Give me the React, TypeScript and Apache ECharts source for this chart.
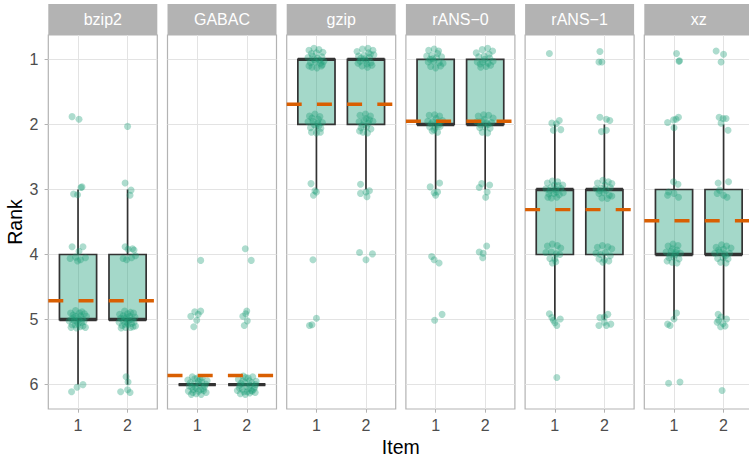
import React, { useEffect, useRef } from "react";
import * as echarts from "echarts";

const facets = ["bzip2", "GABAC", "gzip", "rANS\u22120", "rANS\u22121", "xz"];
const items = [1, 2];
const rankTicks = [1, 2, 3, 4, 5, 6];
const meanRank = [4.71, 5.86, 1.69, 1.95, 3.31, 3.48];

// box stats per item: [whisker top, Q1, median, Q3, whisker bottom] (ranks)
const boxBzip2 = [[3, 4, 5, 5, 6], [3, 4, 5, 5, 6]];
const boxGABAC = [[6, 6, 6, 6, 6], [6, 6, 6, 6, 6]];
const boxGzip = [[1, 1, 1, 2, 3], [1, 1, 1, 2, 3]];
const boxRans0 = [[1, 1, 2, 2, 3], [1, 1, 2, 2, 3]];
const boxRans1 = [[2, 3, 3, 4, 5], [2, 3, 3, 4, 5]];
const boxXz = [[2, 3, 4, 4, 5], [2, 3, 4, 4, 5]];

// jittered points: [x offset from item, rank]
const ptsBzip2a = [[-0.12,1.88],[0.02,1.92],[0.06,2.97],[0.08,2.96],[-0.09,3.07],[-0.01,3.08],
  [-0.12,3.88],[0.10,3.88],[-0.16,4.06],[-0.05,4.04],[0.05,4.08],[0.15,4.05],[-0.01,4.10],[0.02,3.95],
  [-0.15,4.90],[-0.05,4.86],[0.08,4.88],[0.17,4.95],[-0.18,5.02],[-0.08,4.97],[0.02,5.00],[0.12,5.03],[-0.12,5.08],[0.00,5.06],[0.10,5.10],[-0.03,5.13],[0.15,5.12],[-0.10,4.93],[0.05,4.94],[-0.02,5.03],[0.07,5.05],[-0.14,5.12],[0.03,4.90],[-0.06,5.08],
  [-0.04,4.95],[0.09,4.99],[-0.13,4.99],[0.04,5.11],[0.13,4.91],[-0.07,5.02],
  [-0.13,6.11],[-0.02,6.04],[0.10,6.00]];
const ptsBzip2b = [[0.00,2.03],[-0.05,2.90],[0.07,3.01],[0.05,3.09],
  [-0.05,3.88],[0.10,3.91],[0.01,3.92],[-0.09,4.06],[-0.02,4.08],[0.08,4.05],[0.13,3.93],[0.16,4.02],
  [-0.16,4.92],[-0.06,4.87],[0.06,4.89],[0.15,4.96],[-0.17,5.04],[-0.07,4.98],[0.03,5.01],[0.13,5.04],[-0.11,5.09],[0.01,5.07],[0.11,5.11],[-0.04,5.12],[0.16,5.10],[-0.09,4.94],[0.04,4.95],[-0.01,5.04],[0.08,5.06],[-0.13,5.13],[0.00,4.91],[-0.05,5.07],
  [-0.02,4.97],[0.10,5.00],[-0.14,4.98],[0.06,5.12],[0.12,4.90],[-0.08,5.03],
  [-0.03,5.88],[0.01,5.96],[-0.14,6.11],[0.05,6.12],[0.00,6.08]];
const ptsGABACa = [[0.07,4.09],
  [-0.05,4.88],[0.07,4.87],[-0.13,4.95],[-0.01,5.01],[-0.07,5.11],[0.02,4.92],
  [-0.19,5.93],[-0.10,5.88],[0.00,5.90],[0.10,5.89],[0.20,5.94],[-0.16,6.02],[-0.06,5.98],[0.05,6.00],[0.15,6.03],[-0.18,6.10],[-0.08,6.08],[0.03,6.10],[0.13,6.09],[-0.12,6.15],[-0.02,6.14],[0.08,6.15],[0.18,6.12],[-0.04,6.04],[0.09,5.96],[-0.01,6.06],[0.06,5.92],
  [-0.14,5.97],[0.12,6.06],[-0.09,6.12],[0.02,5.95],[0.17,5.99],[-0.05,5.91],[0.07,6.08],[-0.11,6.04]];
const ptsGABACb = [[-0.03,3.91],[0.09,4.09],
  [0.00,4.87],[-0.02,4.91],[-0.08,4.95],[0.01,5.02],[-0.05,5.09],
  [-0.17,5.92],[-0.07,5.87],[0.03,5.90],[0.12,5.88],[0.19,5.95],[-0.14,6.01],[-0.04,5.97],[0.07,6.01],[0.16,6.04],[-0.19,6.09],[-0.09,6.07],[0.01,6.11],[0.11,6.10],[-0.13,6.14],[-0.03,6.15],[0.06,6.13],[0.17,6.12],[-0.01,6.03],[0.10,5.97],[0.04,6.06],[-0.08,5.94],
  [-0.12,5.98],[0.14,6.07],[-0.06,6.11],[0.05,5.94],[0.18,6.00],[-0.02,5.89],[0.09,6.09],[-0.15,6.05]];
const ptsGzipA = [[-0.15,0.86],[-0.05,0.83],[0.05,0.85],[0.13,0.89],[-0.17,0.97],[-0.08,0.95],[0.02,0.98],[0.11,0.96],[-0.12,1.05],[-0.02,1.04],[0.08,1.06],[0.15,1.03],[-0.09,1.12],[0.01,1.13],[0.10,1.10],[-0.15,1.10],[0.00,0.90],[-0.05,1.00],
  [0.06,1.01],[-0.10,0.91],[0.12,1.08],
  [-0.14,1.87],[-0.03,1.84],[0.07,1.88],[-0.17,1.96],[-0.07,1.95],[0.03,1.98],[0.12,1.97],[-0.12,2.05],[-0.01,2.04],[0.09,2.06],[-0.10,2.12],[0.00,2.13],[0.08,2.12],[-0.05,2.00],[0.04,1.92],
  [-0.09,1.90],[0.05,2.02],
  [-0.11,2.91],[-0.03,3.02],[-0.06,3.09],[0.00,3.04],
  [-0.07,4.08],
  [-0.09,5.08],[0.00,4.98],[-0.14,5.09]];
const ptsGzipB = [[-0.18,0.88],[-0.07,0.84],[0.04,0.83],[0.14,0.86],[-0.15,0.95],[-0.04,0.94],[0.07,0.97],[0.16,0.93],[-0.12,1.03],[0.00,1.02],[0.10,1.05],[-0.08,1.10],[0.03,1.12],[0.12,1.09],[-0.16,1.06],[0.05,0.90],[-0.03,0.99],
  [0.09,0.92],[-0.10,0.98],[0.02,1.07],
  [-0.12,1.86],[-0.01,1.84],[0.09,1.87],[-0.14,1.96],[-0.04,1.94],[0.05,1.98],[0.14,1.95],[-0.10,2.05],[0.01,2.04],[0.10,2.07],[-0.06,2.12],[0.03,2.13],[-0.13,2.10],[0.00,1.91],
  [-0.07,2.01],[0.07,1.93],
  [-0.11,2.92],[0.00,3.04],[-0.11,3.06],[0.07,3.02],[0.02,3.11],
  [-0.13,3.97],[0.00,4.08],[0.13,3.99]];
const ptsRans0a = [[-0.14,0.86],[-0.03,0.84],[0.06,0.87],[-0.18,0.95],[-0.08,0.94],[0.02,0.97],[0.12,0.96],[-0.15,1.04],[-0.04,1.03],[0.07,1.05],[0.15,1.06],[-0.10,1.11],[0.00,1.13],[0.10,1.10],[-0.06,0.99],
  [0.04,0.91],[-0.11,1.00],
  [-0.13,1.86],[-0.02,1.85],[0.08,1.87],[-0.16,1.95],[-0.06,1.96],[0.04,1.97],[0.14,1.94],[-0.12,2.04],[-0.01,2.05],[0.09,2.03],[-0.07,2.10],[0.04,2.12],[-0.03,2.08],[0.01,1.91],
  [-0.09,1.99],[0.06,2.01],
  [-0.11,2.96],[0.08,2.90],[-0.03,3.05],[0.04,3.04],[0.00,3.09],
  [-0.08,4.03],[-0.03,4.08],[0.07,4.13],
  [-0.02,5.01],[0.13,4.92]];
const ptsRans0b = [[-0.18,0.90],[-0.06,0.85],[0.05,0.83],[0.15,0.87],[-0.13,0.96],[-0.02,0.95],[0.09,0.98],[-0.16,1.04],[-0.05,1.04],[0.06,1.06],[0.16,1.03],[-0.09,1.12],[0.02,1.11],[0.11,1.09],[-0.01,1.00],
  [0.08,0.92],[-0.10,1.07],
  [-0.14,1.87],[-0.03,1.85],[0.07,1.86],[0.16,1.90],[-0.17,1.96],[-0.07,1.95],[0.03,1.98],[0.13,1.97],[-0.11,2.05],[0.00,2.04],[0.10,2.06],[-0.06,2.12],[0.05,2.13],[-0.02,1.92],
  [0.06,2.00],[-0.09,2.01],
  [-0.07,2.91],[0.09,2.93],[-0.12,2.97],[0.04,3.04],[0.01,3.12],
  [-0.12,3.96],[-0.04,3.98],[-0.05,4.05],[0.03,3.87]];
const ptsRans1a = [[-0.11,0.91],
  [-0.06,1.98],[0.09,1.94],[0.03,1.99],[-0.03,2.09],[0.12,2.08],
  [-0.15,2.90],[-0.05,2.87],[0.06,2.88],[0.16,2.93],[-0.18,2.99],[-0.08,2.97],[0.02,3.00],[0.12,2.98],[-0.12,3.07],[-0.02,3.06],[0.09,3.08],[0.17,3.05],[-0.07,3.13],[0.04,3.12],[-0.14,3.12],[-0.01,2.93],
  [0.07,2.94],[-0.10,3.02],[0.03,3.04],
  [-0.15,3.87],[-0.05,3.84],[0.05,3.86],[0.12,3.90],[-0.18,3.97],[-0.07,3.96],[0.03,3.99],[0.10,4.00],[-0.10,4.06],[0.00,4.07],[-0.05,4.13],[0.02,4.11],
  [-0.11,4.91],[-0.03,5.01],[0.11,4.99],[0.04,5.09],[-0.06,4.97],[0.00,5.05],
  [0.04,5.89]];
const ptsRans1b = [[-0.09,0.88],[-0.11,1.04],[-0.05,1.04],
  [-0.09,1.89],[0.04,1.92],[0.11,1.94],[-0.06,2.11],[0.04,2.09],
  [-0.14,2.90],[-0.03,2.86],[0.08,2.88],[0.15,2.91],[-0.17,2.99],[-0.07,2.98],[0.03,3.01],[0.12,2.97],[-0.11,3.06],[-0.01,3.05],[0.10,3.09],[-0.05,3.13],[0.06,3.14],[0.15,3.10],
  [0.01,2.93],[-0.09,3.02],
  [-0.14,3.89],[-0.04,3.86],[0.07,3.88],[0.15,3.91],[-0.17,3.98],[-0.08,4.00],[0.02,3.97],[0.12,4.02],[-0.11,4.07],[0.00,4.08],[0.09,4.10],[-0.03,4.12],
  [-0.09,4.97],[0.07,4.92],[0.00,4.96],[-0.11,5.09],[0.04,5.09],[0.13,5.07],[0.00,5.04]];
const ptsXzA = [[0.05,0.91],[0.10,1.03],[0.11,1.02],
  [-0.13,1.97],[-0.01,1.93],[0.09,1.89],[0.04,1.92],[0.00,2.05],
  [-0.01,2.88],[0.08,2.92],[-0.11,3.04],[0.00,3.06],[0.09,3.12],[-0.13,3.09],
  [-0.12,3.87],[-0.02,3.84],[0.08,3.86],[-0.16,3.96],[-0.06,3.95],[0.04,3.97],[0.13,3.98],[-0.10,4.05],[0.00,4.04],[0.10,4.07],[-0.14,4.10],[-0.04,4.12],[0.06,4.13],[0.02,4.00],[-0.03,3.91],
  [0.06,3.93],[-0.08,4.01],
  [0.05,4.90],[0.00,4.99],[-0.13,5.07],[-0.08,5.09],
  [-0.11,5.98],[0.12,5.96]];
const ptsXzB = [[-0.15,0.87],[0.00,0.92],[-0.05,1.04],
  [-0.09,1.89],[0.05,1.91],[-0.05,1.98],[0.09,2.09],[-0.01,1.91],
  [-0.11,2.90],[0.10,2.88],[-0.08,3.01],[0.00,3.09],[0.07,3.12],[-0.13,3.06],
  [-0.15,3.89],[-0.04,3.85],[0.06,3.87],[0.15,3.90],[-0.18,3.98],[-0.08,3.96],[0.02,3.99],[0.12,3.98],[-0.12,4.06],[-0.01,4.05],[0.09,4.07],[-0.06,4.12],[0.05,4.13],[0.00,3.92],
  [-0.10,3.93],[0.04,4.02],
  [-0.11,4.92],[-0.05,4.96],[-0.10,5.01],[-0.01,5.06],[-0.13,5.04],[0.03,5.10],[-0.06,5.11],[0.06,4.99],
  [-0.03,6.09]];

const boxes = [boxBzip2, boxGABAC, boxGzip, boxRans0, boxRans1, boxXz];
const points = [
  [ptsBzip2a, ptsBzip2b],
  [ptsGABACa, ptsGABACb],
  [ptsGzipA, ptsGzipB],
  [ptsRans0a, ptsRans0b],
  [ptsRans1a, ptsRans1b],
  [ptsXzA, ptsXzB],
];

// layout (pixels)
const P_LEFT = 48.3;
const P_STEP = 119.2;
const P_W = 109;
const P_TOP = 35;
const P_H = 374;
const S_TOP = 4;
const S_H = 31;
const FONT = "'Liberation Sans', Arial, Helvetica, sans-serif";

export default function App() {
  const ref = useRef<HTMLDivElement>(null);
  useEffect(() => {
    if (!ref.current) return;
    const chart = echarts.init(ref.current, null, { renderer: "svg" });
    const grids: any[] = [];
    const xAxes: any[] = [];
    const yAxes: any[] = [];
    const series: any[] = [];
    const graphics: any[] = [];

    facets.forEach((name, i) => {
      const left = P_LEFT + i * P_STEP;
      grids.push({
        left, top: P_TOP, width: P_W, height: P_H,
        show: true, borderColor: "#B3B3B3", borderWidth: 1.2, backgroundColor: "transparent",
      });
      xAxes.push({
        type: "value", gridIndex: i, min: 0.4, max: 2.6,
        axisLine: { show: false },
        axisTick: { show: true, customValues: items, length: 3.7, lineStyle: { color: "#B3B3B3" } },
        axisLabel: { show: true, customValues: items, margin: 8, fontSize: 16, color: "#4D4D4D", fontFamily: FONT },
        splitLine: { show: true, lineStyle: { color: "#E3E3E3", width: 1 } },
      });
      yAxes.push({
        type: "value", gridIndex: i, inverse: true, min: 0.625, max: 6.375,
        axisLine: { show: false },
        axisTick: { show: i === 0, customValues: rankTicks, length: 3.7, lineStyle: { color: "#B3B3B3" } },
        axisLabel: { show: i === 0, customValues: rankTicks, margin: 10, fontSize: 16, color: "#4D4D4D", fontFamily: FONT },
        splitLine: { show: true, lineStyle: { color: "#E3E3E3", width: 1 } },
      });
      series.push({
        type: "custom", xAxisIndex: i, yAxisIndex: i, z: 2, silent: true,
        encode: { x: 0, y: [1, 2, 3, 4, 5] },
        data: boxes[i].map((b, k) => [items[k], b[0], b[1], b[2], b[3], b[4]]),
        renderItem: (_p: any, api: any) => {
          const x = api.value(0);
          const top = api.value(1), q1 = api.value(2), med = api.value(3), q3 = api.value(4), bot = api.value(5);
          const half = 0.375;
          const a = api.coord([x - half, q1]);
          const b = api.coord([x + half, q3]);
          const cx = api.coord([x, q1])[0];
          const children: any[] = [];
          const line = (y1: number, y2: number) => {
            const p1 = api.coord([x, y1]);
            const p2 = api.coord([x, y2]);
            return { type: "line", shape: { x1: cx, y1: p1[1], x2: cx, y2: p2[1] }, style: { stroke: "#333333", lineWidth: 1.7 } };
          };
          if (top < q1) children.push(line(top, q1));
          if (bot > q3) children.push(line(q3, bot));
          children.push({
            type: "rect",
            shape: { x: a[0], y: a[1], width: b[0] - a[0], height: b[1] - a[1] },
            style: { fill: "rgba(27,158,119,0.4)", stroke: "#333333", lineWidth: 1.7 },
          });
          const m = api.coord([x, med]);
          children.push({ type: "line", shape: { x1: a[0], y1: m[1], x2: b[0], y2: m[1] }, style: { stroke: "#333333", lineWidth: 3.4 } });
          return { type: "group", children };
        },
      });
      const pts: number[][] = [];
      points[i].forEach((grp, k) => grp.forEach((p) => pts.push([items[k] + p[0], p[1]])));
      series.push({
        type: "scatter", xAxisIndex: i, yAxisIndex: i, z: 3, silent: true,
        symbol: "circle", symbolSize: 7,
        itemStyle: { color: "rgba(27,158,119,0.45)" },
        data: pts,
      });
      series.push({
        type: "line", xAxisIndex: i, yAxisIndex: i, z: 4, silent: true,
        symbol: "none",
        lineStyle: { color: "#D95F02", width: 3.4, type: [15, 15.2], cap: "butt" },
        data: [[0.4, meanRank[i]], [2.6, meanRank[i]]],
      });
      graphics.push({
        type: "rect", x: left, y: S_TOP,
        shape: { x: 0, y: 0, width: P_W, height: S_H },
        style: { fill: "#B3B3B3" }, silent: true,
      });
      graphics.push({
        type: "text", x: left + P_W / 2, y: S_TOP + S_H / 2,
        style: { text: name, fill: "#FFFFFF", fontSize: 16, fontFamily: FONT, align: "center", verticalAlign: "middle" },
        silent: true,
      });
    });

    graphics.push({
      type: "text", x: P_LEFT + (5 * P_STEP + P_W) / 2, y: 446.5,
      style: { text: "Item", fill: "#000000", fontSize: 19.5, fontFamily: FONT, align: "center", verticalAlign: "middle" },
      silent: true,
    });
    graphics.push({
      type: "text", x: 15, y: P_TOP + P_H / 2, rotation: Math.PI / 2,
      style: { text: "Rank", fill: "#000000", fontSize: 19.5, fontFamily: FONT, align: "center", verticalAlign: "middle" },
      silent: true,
    });

    chart.setOption({
      animation: false,
      backgroundColor: "#FFFFFF",
      grid: grids,
      xAxis: xAxes,
      yAxis: yAxes,
      series,
      graphic: graphics,
    });
    return () => chart.dispose();
  }, []);

  return (
    <div style={{ position: "fixed", left: 0, top: 0, width: 749, height: 458, overflow: "hidden", background: "#fff" }}>
      <div ref={ref} style={{ width: 754, height: 458 }} />
    </div>
  );
}
